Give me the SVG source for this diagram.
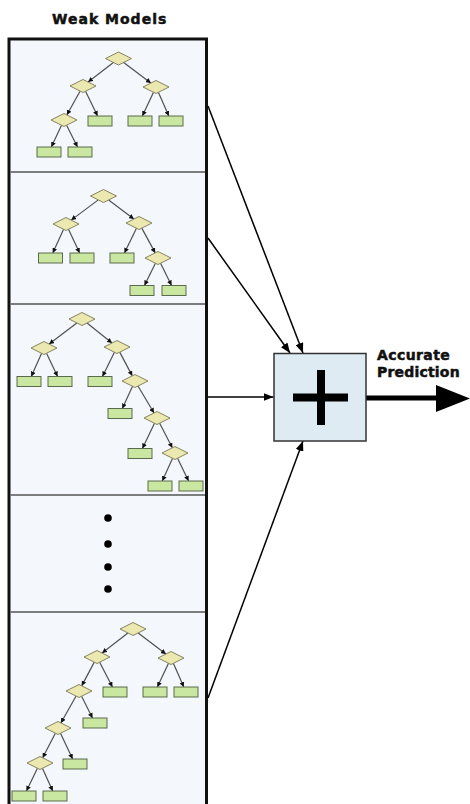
<svg xmlns="http://www.w3.org/2000/svg" width="470" height="804" viewBox="0 0 470 804">
  <style>
    .title { font-family: "DejaVu Sans", "Liberation Sans", sans-serif; font-weight: bold; font-size: 14px; fill: #111; stroke: #111; stroke-width: 0.5; }
    .panel { fill: #f4f8fc; stroke: #111; stroke-width: 3; }
    .divider { stroke: #555; stroke-width: 1.5; }
    .split { fill: #ebe8b0; stroke: #858360; stroke-width: 1; }
    .leaf { fill: #c9e7a1; stroke: #5a6a4d; stroke-width: 1; }
    .edge { stroke: #505050; stroke-width: 1.2; fill: none; marker-end: url(#tip); }
    .link { stroke: #000; stroke-width: 1.5; fill: none; marker-end: url(#head); }
    .dot { fill: #000; }
  </style>
  <defs>
    <marker id="tip" markerUnits="userSpaceOnUse" markerWidth="6" markerHeight="5" refX="5" refY="2.5" orient="auto">
      <path d="M0,0 L5,2.5 L0,5 Z" fill="#111"/>
    </marker>
    <marker id="head" markerUnits="userSpaceOnUse" markerWidth="11" markerHeight="8" refX="10" refY="4" orient="auto">
      <path d="M0,0 L10,4 L0,8 Z" fill="#000"/>
    </marker>
    <polygon id="dia" points="-13,0 0,-6.5 13,0 0,6.5"/>
    <rect id="lf" x="-12" y="-5" width="24" height="10"/>
  </defs>

  <text class="title" x="52" y="24" letter-spacing="1">Weak Models</text>

  <!-- ensemble panel -->
  <g id="panel">
    <rect class="panel" x="9" y="39" width="197.5" height="790"/>
    <line class="divider" x1="10.5" y1="172" x2="205" y2="172"/>
    <line class="divider" x1="10.5" y1="304" x2="205" y2="304"/>
    <line class="divider" x1="10.5" y1="495" x2="205" y2="495"/>
    <line class="divider" x1="10.5" y1="612" x2="205" y2="612"/>
  </g>

  <!-- tree 1 -->
  <g id="tree1">
    <g class="tree-edges">
      <line class="edge" x1="113.4" y1="62.45" x2="88.1" y2="82.05"/>
      <line class="edge" x1="123.66" y1="62.42" x2="150.84" y2="83.08"/>
      <line class="edge" x1="80.16" y1="91.08" x2="66.84" y2="114.92"/>
      <line class="edge" x1="85.54" y1="91.23" x2="97.57" y2="116"/>
      <line class="edge" x1="153.52" y1="92.26" x2="142.35" y2="116"/>
      <line class="edge" x1="158.35" y1="92.32" x2="168.79" y2="116"/>
      <line class="edge" x1="61.53" y1="125.27" x2="51.34" y2="147"/>
      <line class="edge" x1="66.6" y1="125.2" x2="77.5" y2="147"/>
    </g>
    <use href="#dia" class="split" x="118.5" y="58.5"/>
    <use href="#dia" class="split" x="83" y="86"/>
    <use href="#dia" class="split" x="156" y="87"/>
    <use href="#dia" class="split" x="64" y="120"/>
    <use href="#lf" class="leaf" x="100" y="121"/>
    <use href="#lf" class="leaf" x="140" y="121"/>
    <use href="#lf" class="leaf" x="171" y="121"/>
    <use href="#lf" class="leaf" x="49" y="152"/>
    <use href="#lf" class="leaf" x="80" y="152"/>
  </g>

  <!-- tree 2 -->
  <g id="tree2">
    <g class="tree-edges">
      <line class="edge" x1="98.29" y1="199.89" x2="71.21" y2="220.11"/>
      <line class="edge" x1="108.65" y1="199.92" x2="133.85" y2="219.08"/>
      <line class="edge" x1="63.59" y1="229.29" x2="52.78" y2="253"/>
      <line class="edge" x1="68.48" y1="229.26" x2="79.65" y2="253"/>
      <line class="edge" x1="136.46" y1="228.23" x2="124.43" y2="253"/>
      <line class="edge" x1="141.78" y1="228.11" x2="155.22" y2="252.89"/>
      <line class="edge" x1="155.43" y1="263.22" x2="144.46" y2="285.5"/>
      <line class="edge" x1="160.57" y1="263.22" x2="171.54" y2="285.5"/>
    </g>
    <use href="#dia" class="split" x="103.5" y="196"/>
    <use href="#dia" class="split" x="66" y="224"/>
    <use href="#dia" class="split" x="139" y="223"/>
    <use href="#dia" class="split" x="158" y="258"/>
    <use href="#lf" class="leaf" x="50.5" y="258"/>
    <use href="#lf" class="leaf" x="82" y="258"/>
    <use href="#lf" class="leaf" x="122" y="258"/>
    <use href="#lf" class="leaf" x="142" y="290.5"/>
    <use href="#lf" class="leaf" x="174" y="290.5"/>
  </g>

  <!-- tree 3 -->
  <g id="tree3">
    <g class="tree-edges">
      <line class="edge" x1="76.85" y1="322.93" x2="49.15" y2="344.07"/>
      <line class="edge" x1="87" y1="323" x2="112" y2="343"/>
      <line class="edge" x1="41.62" y1="353.31" x2="31.24" y2="376.5"/>
      <line class="edge" x1="46.51" y1="353.25" x2="57.61" y2="376.5"/>
      <line class="edge" x1="114.43" y1="352.22" x2="102.46" y2="376.5"/>
      <line class="edge" x1="119.72" y1="352.14" x2="132.28" y2="375.86"/>
      <line class="edge" x1="132.56" y1="386.28" x2="122.31" y2="408.5"/>
      <line class="edge" x1="137.98" y1="386.01" x2="154.02" y2="412.99"/>
      <line class="edge" x1="154.49" y1="423.24" x2="142.39" y2="448.5"/>
      <line class="edge" x1="159.66" y1="423.17" x2="172.34" y2="447.83"/>
      <line class="edge" x1="172.59" y1="458.3" x2="162.27" y2="481"/>
      <line class="edge" x1="177.54" y1="458.23" x2="188.58" y2="481"/>
    </g>
    <use href="#dia" class="split" x="82" y="319"/>
    <use href="#dia" class="split" x="44" y="348"/>
    <use href="#dia" class="split" x="117" y="347"/>
    <use href="#dia" class="split" x="135" y="381"/>
    <use href="#dia" class="split" x="157" y="418"/>
    <use href="#dia" class="split" x="175" y="453"/>
    <use href="#lf" class="leaf" x="29" y="381.5"/>
    <use href="#lf" class="leaf" x="60" y="381.5"/>
    <use href="#lf" class="leaf" x="100" y="381.5"/>
    <use href="#lf" class="leaf" x="120" y="413.5"/>
    <use href="#lf" class="leaf" x="140" y="453.5"/>
    <use href="#lf" class="leaf" x="160" y="486"/>
    <use href="#lf" class="leaf" x="191" y="486"/>
  </g>

  <!-- ellipsis between models -->
  <g id="more">
    <circle class="dot" cx="108" cy="518" r="3.8"/>
    <circle class="dot" cx="108" cy="544" r="3.8"/>
    <circle class="dot" cx="108" cy="567" r="3.8"/>
    <circle class="dot" cx="108" cy="589" r="3.8"/>
  </g>

  <!-- tree 4 -->
  <g id="tree4">
    <g class="tree-edges">
      <line class="edge" x1="127.91" y1="632.96" x2="102.09" y2="653.04"/>
      <line class="edge" x1="138.15" y1="632.93" x2="165.85" y2="654.07"/>
      <line class="edge" x1="94.28" y1="662.14" x2="81.72" y2="685.86"/>
      <line class="edge" x1="99.66" y1="662.17" x2="112.43" y2="687"/>
      <line class="edge" x1="168.52" y1="663.26" x2="157.35" y2="687"/>
      <line class="edge" x1="173.35" y1="663.32" x2="183.79" y2="687"/>
      <line class="edge" x1="76.13" y1="696.06" x2="60.87" y2="722.94"/>
      <line class="edge" x1="81.6" y1="696.2" x2="92.5" y2="718"/>
      <line class="edge" x1="55.34" y1="733.17" x2="42.66" y2="757.83"/>
      <line class="edge" x1="60.48" y1="733.26" x2="72.64" y2="759"/>
      <line class="edge" x1="37.46" y1="768.23" x2="26.42" y2="791"/>
      <line class="edge" x1="42.41" y1="768.3" x2="52.73" y2="791"/>
    </g>
    <use href="#dia" class="split" x="133" y="629"/>
    <use href="#dia" class="split" x="97" y="657"/>
    <use href="#dia" class="split" x="171" y="658"/>
    <use href="#dia" class="split" x="79" y="691"/>
    <use href="#dia" class="split" x="58" y="728"/>
    <use href="#dia" class="split" x="40" y="763"/>
    <use href="#lf" class="leaf" x="115" y="692"/>
    <use href="#lf" class="leaf" x="155" y="692"/>
    <use href="#lf" class="leaf" x="186" y="692"/>
    <use href="#lf" class="leaf" x="95" y="723"/>
    <use href="#lf" class="leaf" x="75" y="764"/>
    <use href="#lf" class="leaf" x="24" y="796"/>
    <use href="#lf" class="leaf" x="55" y="796"/>
  </g>

  <!-- model outputs into the combiner -->
  <g id="connectors">
    <line class="link" x1="208" y1="106" x2="303" y2="353"/>
    <line class="link" x1="208" y1="238" x2="290" y2="353"/>
    <line class="link" x1="208" y1="397" x2="273.5" y2="397"/>
    <line class="link" x1="208" y1="698" x2="303" y2="441"/>
    <line x1="366" y1="398" x2="440" y2="398" stroke="#000" stroke-width="5"/>
    <polygon points="436,385 470,398.5 436,412" fill="#000"/>
  </g>

  <!-- combiner -->
  <g id="combiner">
    <rect x="274" y="353.5" width="92" height="87.5" fill="#deebf2" stroke="#333" stroke-width="1.5"/>
    <rect x="293" y="393.5" width="55" height="8" fill="#000"/>
    <rect x="317" y="370" width="8" height="55" fill="#000"/>
  </g>

  <g id="output-label">
    <text class="title" x="377" y="360" letter-spacing="0.4">Accurate</text>
    <text class="title" x="377" y="377" letter-spacing="0.2">Prediction</text>
  </g>
</svg>
